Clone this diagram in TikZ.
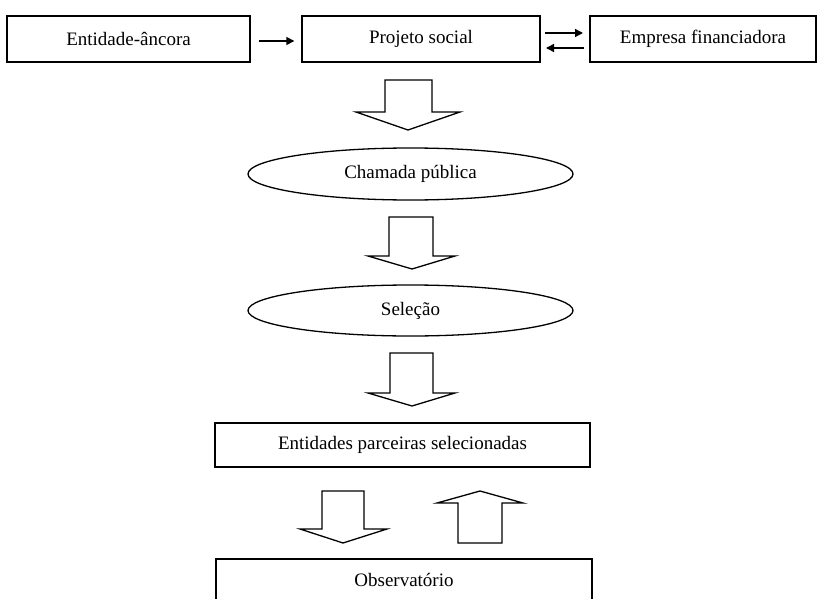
\documentclass[tikz,border=0pt]{standalone}
\usepackage{fontspec}
\setmainfont{Liberation Serif}
\usetikzlibrary{arrows.meta,shapes.geometric,calc}
\begin{document}
\begin{tikzpicture}[x=1pt,y=-1pt,
  box/.style={draw,line width=1.4pt,minimum height=0pt,inner sep=0pt},
  lbl/.style={font=\fontsize{19}{21}\selectfont},
  small/.style={line width=1.4pt,-{Triangle[length=8pt,width=8pt]}},
  hollow/.style={draw,line width=1.3pt,line join=miter,fill=white}]
\useasboundingbox (0,0) rectangle (819,599);
\begin{scope}
\clip (0,0) rectangle (819,599);
% boxes
\node[box,minimum width=243pt,minimum height=46pt,lbl] (anc) at (128.5,39) {Entidade-âncora};
\node[box,minimum width=238pt,minimum height=46pt,lbl] (proj) at (421,39) {Projeto social};
\node[box,minimum width=226pt,minimum height=46pt,lbl] (emp) at (703,39) {Empresa financiadora};
\draw[small] ($(anc.east)+(8,2)$) coordinate (a1) -- ($(proj.west)+(-7,2)$) coordinate (a2);
\coordinate (p1) at (545,33); \coordinate (e1) at (583,33);
\coordinate (p2) at (546,48); \coordinate (e2) at (584,48);
\draw[small] (p1) -- (e1);
\draw[small] (e2) -- (p2);
% ellipses
\node[draw,ellipse,line width=1.3pt,minimum width=325pt,minimum height=52pt,inner sep=0pt,lbl] (cham) at (410.5,174) {Chamada pública};
\node[draw,ellipse,line width=1.3pt,minimum width=325pt,minimum height=51pt,inner sep=0pt,lbl] (sel) at (410.5,310.5) {Seleção};
% box 4 and 5
\node[box,minimum width=375pt,minimum height=44pt,lbl] (ent) at (402.5,445) {Entidades parceiras selecionadas};
\node[box,minimum width=376pt,minimum height=46pt,lbl,text depth=0pt] (obs) at (404,582) {};
\node[lbl] (obst) at (404,580) {Observatório};
% hollow arrows
\draw[hollow] (385,80) -- (432,80) -- (432,112) -- (460,112) -- (408,130) -- (356,112) -- (385,112) -- cycle;
\draw[hollow] (389,217) -- (433,217) -- (433,256) -- (455,256) -- (412,269) -- (368,256) -- (389,256) -- cycle;
\draw[hollow] (390,353) -- (433,353) -- (433,393) -- (455,393) -- (412,406) -- (368,393) -- (390,393) -- cycle;
\draw[hollow] (322,491) -- (364,491) -- (364,529) -- (387,529) -- (343,543) -- (300,529) -- (322,529) -- cycle;
\draw[hollow] (458,543) -- (502,543) -- (502,503) -- (523,503) -- (480,491) -- (437,503) -- (458,503) -- cycle;
\end{scope}
\end{tikzpicture}
\end{document}
